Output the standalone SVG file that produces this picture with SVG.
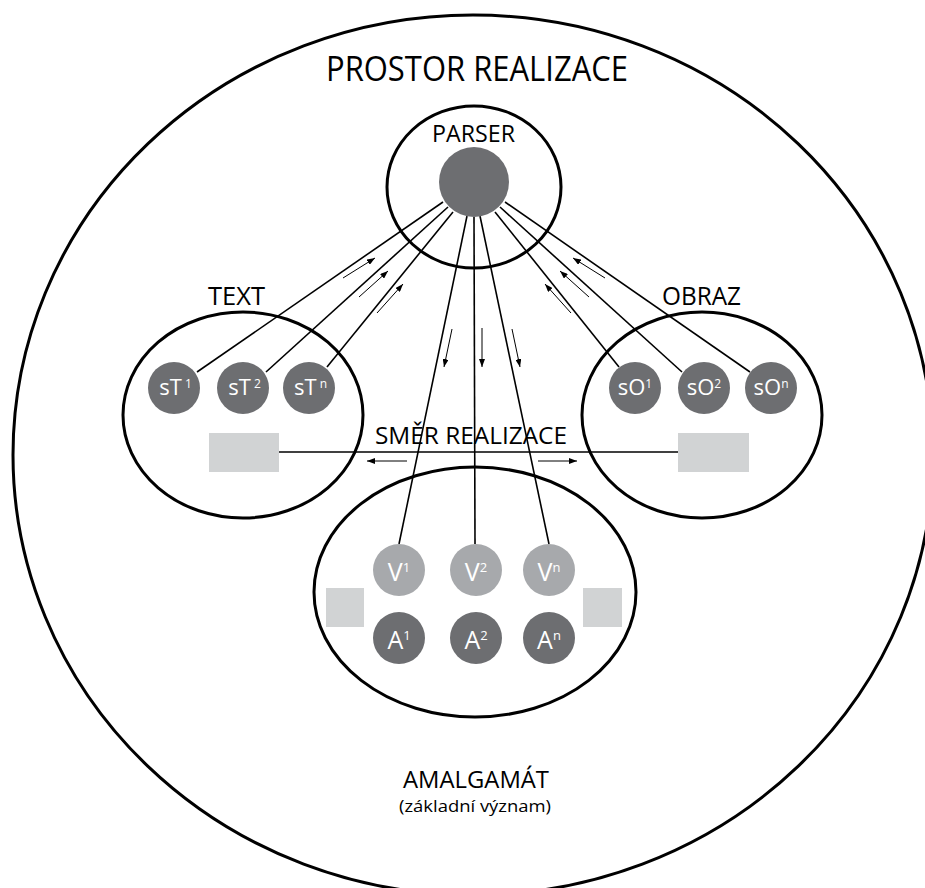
<svg xmlns="http://www.w3.org/2000/svg" width="925" height="888" viewBox="0 0 925 888">
  <style>
    .frame { fill: none; stroke: #000; stroke-width: 3; }
    .link { stroke: #000; stroke-width: 1.6; fill: none; }
    .flow { stroke: #000; stroke-width: 1; fill: none; marker-end: url(#head); }
    .dark { fill: #6d6e71; }
    .light { fill: #a7a9ac; }
    .slot { fill: #d1d3d4; }
    .label { font-family: "Open Sans", "Noto Sans", sans-serif; fill: #000; text-anchor: middle; }
    .inner { font-family: "Open Sans", "Noto Sans", sans-serif; fill: #fff; text-anchor: middle; }
  </style>
  <defs>
    <marker id="head" markerUnits="userSpaceOnUse" markerWidth="9" markerHeight="6" refX="8" refY="3" orient="auto">
      <path d="M0,0 L8,3 L0,6 z" fill="#000"/>
    </marker>
  </defs>
  <rect width="925" height="888" fill="#fff"/>

  <!-- realization space -->
  <g id="prostor">
    <ellipse class="frame" cx="473" cy="455" rx="460" ry="440"/>
    <text class="label" x="477" y="81" font-size="34" textLength="302" lengthAdjust="spacingAndGlyphs">PROSTOR REALIZACE</text>
  </g>

  <!-- connectors -->
  <g id="connectors">
    <line class="link" x1="443" y1="202" x2="197" y2="372"/>
    <line class="link" x1="448" y1="207" x2="266" y2="372"/>
    <line class="link" x1="453" y1="212" x2="327" y2="367"/>
    <line class="link" x1="505" y1="202" x2="750" y2="372"/>
    <line class="link" x1="500" y1="207" x2="682" y2="372"/>
    <line class="link" x1="495" y1="212" x2="619" y2="367"/>
    <line class="link" x1="467" y1="216" x2="399" y2="544"/>
    <line class="link" x1="474" y1="217" x2="475" y2="544"/>
    <line class="link" x1="480" y1="216" x2="549" y2="544"/>
    <line class="link" x1="279" y1="452" x2="678" y2="452"/>

    <line class="flow" x1="343" y1="278" x2="375" y2="258"/>
    <line class="flow" x1="359" y1="297" x2="388" y2="271"/>
    <line class="flow" x1="377" y1="313" x2="403" y2="284"/>
    <line class="flow" x1="605" y1="278" x2="573" y2="258"/>
    <line class="flow" x1="589" y1="297" x2="560" y2="271"/>
    <line class="flow" x1="571" y1="313" x2="545" y2="284"/>
    <line class="flow" x1="452" y1="329" x2="444" y2="367"/>
    <line class="flow" x1="482" y1="328" x2="482" y2="367"/>
    <line class="flow" x1="512" y1="329" x2="520" y2="367"/>
    <line class="flow" x1="407" y1="461" x2="367" y2="461"/>
    <line class="flow" x1="538" y1="461" x2="577" y2="461"/>
  </g>

  <g id="smer">
    <text class="label" x="471" y="444" font-size="24" textLength="192" lengthAdjust="spacingAndGlyphs">SMĚR REALIZACE</text>
  </g>

  <!-- parser -->
  <g id="parser">
    <ellipse class="frame" cx="474" cy="187" rx="87" ry="81"/>
    <text class="label" x="473.5" y="142" font-size="24" textLength="83" lengthAdjust="spacingAndGlyphs">PARSER</text>
    <circle class="dark" cx="474" cy="182" r="35"/>
  </g>

  <!-- text -->
  <g id="text">
    <ellipse class="frame" cx="243" cy="415" rx="120" ry="103"/>
    <text class="label" x="236.5" y="305" font-size="25" textLength="57" lengthAdjust="spacingAndGlyphs">TEXT</text>
    <rect class="slot" x="209" y="433" width="70" height="39"/>
  </g>
  <g id="sT1">
    <circle class="dark" cx="174" cy="388" r="26"/>
    <text class="inner" x="175.5" y="395" font-size="22">sT<tspan font-size="12" dy="-7"> 1</tspan></text>
  </g>
  <g id="sT2">
    <circle class="dark" cx="243" cy="388" r="26"/>
    <text class="inner" x="244.5" y="395" font-size="22">sT<tspan font-size="12" dy="-7"> 2</tspan></text>
  </g>
  <g id="sTn">
    <circle class="dark" cx="309" cy="388" r="26"/>
    <text class="inner" x="310.5" y="395" font-size="22">sT<tspan font-size="12" dy="-7"> n</tspan></text>
  </g>

  <!-- image -->
  <g id="obraz">
    <ellipse class="frame" cx="702" cy="415" rx="120" ry="103"/>
    <text class="label" x="701.5" y="305" font-size="25" textLength="79" lengthAdjust="spacingAndGlyphs">OBRAZ</text>
    <rect class="slot" x="678" y="433" width="71" height="39"/>
  </g>
  <g id="sO1">
    <circle class="dark" cx="635" cy="388" r="26"/>
    <text class="inner" x="635" y="395" font-size="22">sO<tspan font-size="12" dy="-7">1</tspan></text>
  </g>
  <g id="sO2">
    <circle class="dark" cx="704" cy="388" r="26"/>
    <text class="inner" x="704" y="395" font-size="22">sO<tspan font-size="12" dy="-7">2</tspan></text>
  </g>
  <g id="sOn">
    <circle class="dark" cx="771" cy="388" r="26"/>
    <text class="inner" x="771" y="395" font-size="22">sO<tspan font-size="12" dy="-7">n</tspan></text>
  </g>

  <!-- amalgam -->
  <g id="amalgamat">
    <ellipse class="frame" cx="475" cy="592" rx="161" ry="125"/>
    <rect class="slot" x="326" y="588" width="38" height="39"/>
    <rect class="slot" x="583" y="588" width="39" height="39"/>
    <text class="label" x="476" y="788" font-size="23.5" textLength="146" lengthAdjust="spacingAndGlyphs">AMALGAMÁT</text>
    <text class="label" x="475" y="812" font-size="17" textLength="152" lengthAdjust="spacingAndGlyphs">(základní význam)</text>
  </g>
  <g id="V1">
    <circle class="light" cx="399" cy="570" r="26"/>
    <text class="inner" x="399" y="581" font-size="25">V<tspan font-size="13" dy="-9">1</tspan></text>
  </g>
  <g id="V2">
    <circle class="light" cx="476" cy="570" r="26"/>
    <text class="inner" x="476" y="581" font-size="25">V<tspan font-size="13" dy="-9">2</tspan></text>
  </g>
  <g id="Vn">
    <circle class="light" cx="549" cy="570" r="26"/>
    <text class="inner" x="549" y="581" font-size="25">V<tspan font-size="13" dy="-9">n</tspan></text>
  </g>
  <g id="A1">
    <circle class="dark" cx="399" cy="638" r="26"/>
    <text class="inner" x="399" y="649" font-size="25">A<tspan font-size="13" dy="-9">1</tspan></text>
  </g>
  <g id="A2">
    <circle class="dark" cx="476" cy="638" r="26"/>
    <text class="inner" x="476" y="649" font-size="25">A<tspan font-size="13" dy="-9">2</tspan></text>
  </g>
  <g id="An">
    <circle class="dark" cx="549" cy="638" r="26"/>
    <text class="inner" x="549" y="649" font-size="25">A<tspan font-size="13" dy="-9">n</tspan></text>
  </g>
</svg>
